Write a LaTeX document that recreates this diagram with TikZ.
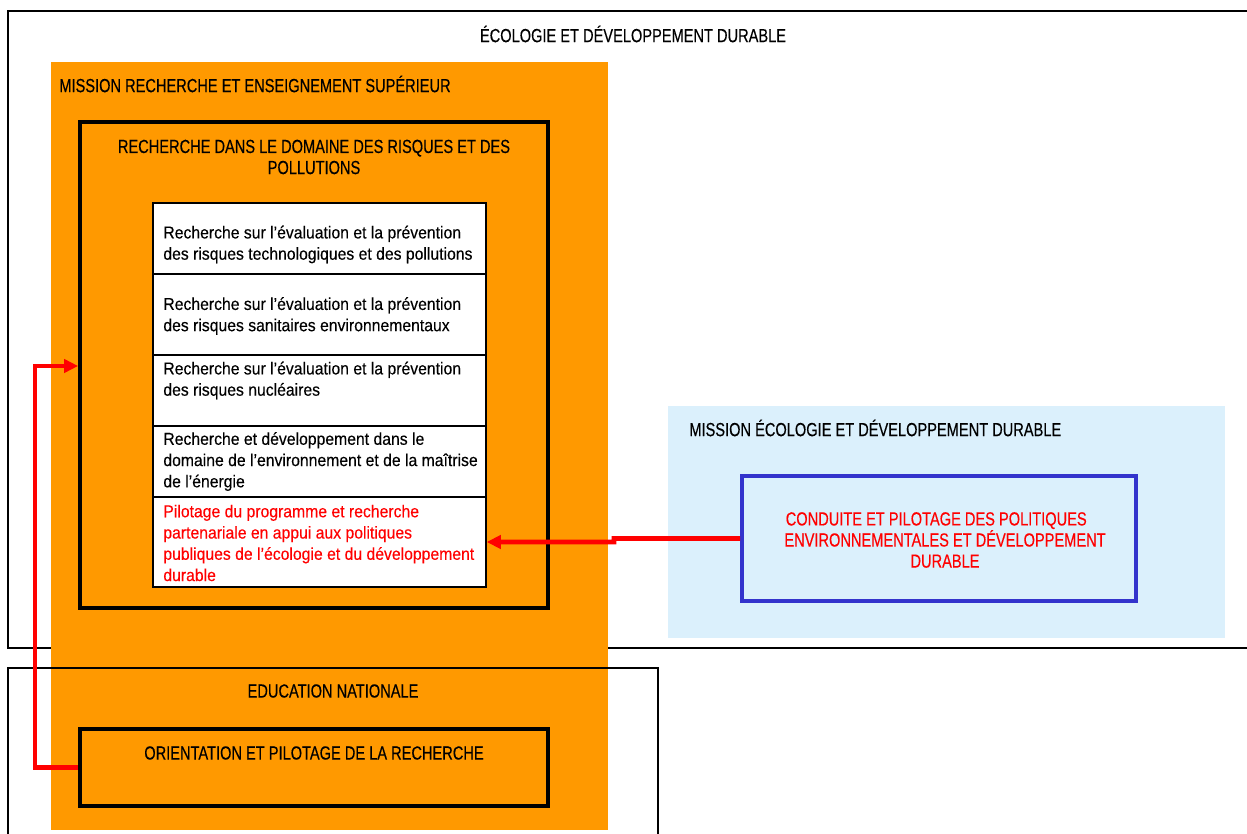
\documentclass[tikz,border=0pt]{standalone}
\usepackage{fontspec}
\setmainfont{Liberation Sans}[FakeStretch=0.915, FakeBold=0.25]
\newfontfamily\capsfont{Liberation Sans}[FakeStretch=0.77, FakeBold=0.3]
\usetikzlibrary{arrows.meta,fit}

\definecolor{orangeM}{HTML}{FF9900}
\definecolor{blueBg}{HTML}{DBF0FC}
\definecolor{blueLine}{HTML}{3333CC}
\definecolor{redLink}{HTML}{FF0000}

\tikzset{
  frame/.style={draw=black, line width=0.85pt, inner sep=0pt},
  thickframe/.style={draw=black, line width=2.1pt, inner sep=0pt},
  panel/.style={draw=none, inner sep=0pt},
  cell/.style={draw=black, line width=0.8pt, fill=white, inner sep=0pt},
  captxt/.style={inner sep=0pt, font=\capsfont\fontsize{10.8}{12}\selectfont},
  celltxt/.style={inner sep=0pt, anchor=west, align=left, font=\fontsize{9.8}{12.1}\selectfont},
  link/.style={draw=redLink, line width=2.6pt},
  linkarrow/.style={link, -{Triangle[length=8pt,width=7.5pt]}},
}

\begin{document}
\begin{tikzpicture}[x=0.02cm, y=-0.02cm]
\useasboundingbox (0,0) rectangle (1247,834);

% Ministry frame (open to the right)
\node[frame, fit={(8,11) (1280,648)}] (eco) {};
\node[captxt] (ecotitle) at (633,34) {ÉCOLOGIE ET DÉVELOPPEMENT DURABLE};

% Research and higher education mission
\node[panel, fill=orangeM, fit={(51,62) (608,830)}] (mires) {};
\node[captxt, anchor=west] (mirestitle) at (59,84) {MISSION RECHERCHE ET ENSEIGNEMENT SUPÉRIEUR};

% National education frame
\node[frame, fit={(8,668) (658,860)}] (edu) {};
\node[captxt] (edutitle) at (333,691) {EDUCATION NATIONALE};

% Risks and pollution research programme
\node[thickframe, fit={(80,122) (548,608)}] (rd) {};
\node[captxt, align=center] (rdtitle) at (314,157)
  {RECHERCHE DANS LE DOMAINE DES RISQUES ET DES\\POLLUTIONS};

% Programme actions
\node[cell, fit={(153,203) (486,274)}] (row1) {};
\node[cell, fit={(153,274) (486,355)}] (row2) {};
\node[cell, fit={(153,355) (486,426)}] (row3) {};
\node[cell, fit={(153,426) (486,497)}] (row4) {};
\node[cell, fit={(153,497) (486,587)}] (row5) {};

\node[celltxt] (t1) at (163,244.5)
  {Recherche sur l’évaluation et la prévention\\des risques technologiques et des pollutions};
\node[celltxt] (t2) at (163,316)
  {Recherche sur l’évaluation et la prévention\\des risques sanitaires environnementaux};
\node[celltxt] (t3) at (163,380.5)
  {Recherche sur l’évaluation et la prévention\\des risques nucléaires};
\node[celltxt] (t4) at (163,461.5)
  {Recherche et développement dans le\\domaine de l’environnement et de la maîtrise\\de l’énergie};
\node[celltxt, text=redLink] (t5) at (163,543)
  {Pilotage du programme et recherche\\partenariale en appui aux politiques\\publiques de l’écologie et du développement\\durable};

% Ecology and sustainable development mission
\node[panel, fill=blueBg, fit={(668,406) (1225,638)}] (mied) {};
\node[captxt, anchor=west] (miedtitle) at (689,428) {MISSION ÉCOLOGIE ET DÉVELOPPEMENT DURABLE};
\node[thickframe, draw=blueLine, fit={(742,476) (1136,601)}] (cpp) {};
\node[captxt, align=center, text=redLink] (cpptxt) at (945,540)
  {CONDUITE ET PILOTAGE DES POLITIQUES\hspace*{10pt}\\ENVIRONNEMENTALES ET DÉVELOPPEMENT\\DURABLE};

% Orientation of research
\node[thickframe, fit={(80,729) (548,806)}] (orient) {};
\node[captxt] (orienttxt) at (314,753) {ORIENTATION ET PILOTAGE DE LA RECHERCHE};

% Links
\coordinate (jog) at (614,538.5);
\draw[linkarrow] (cpp.west) -- (jog) |- (row5.east);
\coordinate (bend) at (35,366);
\draw[linkarrow] (orient.west) -| (bend) -- (rd.west |- bend);
\end{tikzpicture}
\end{document}
